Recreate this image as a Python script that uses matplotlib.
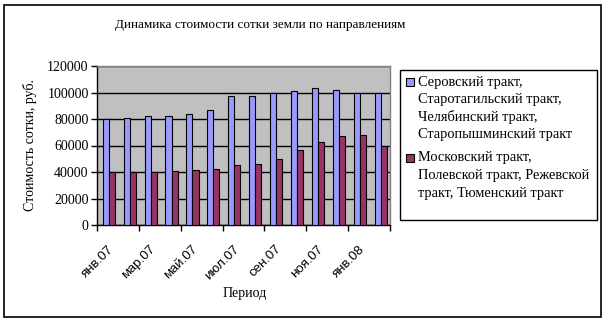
import matplotlib
matplotlib.use("Agg")
import matplotlib.pyplot as plt
from matplotlib.patches import Rectangle
from matplotlib.transforms import ScaledTranslation
import numpy as np

plt.rcParams['font.family'] = ['Liberation Serif', 'DejaVu Serif']

months = ["янв.07", "фев.07", "мар.07", "апр.07", "май.07", "июн.07", "июл.07",
          "авг.07", "сен.07", "окт.07", "ноя.07", "дек.07", "янв.08", "фев.08"]
north_west = [80000, 80500, 82000, 82000, 83500, 86500, 97000,
              97000, 100000, 101500, 103700, 102200, 100000, 100000]
south_east = [40000, 40000, 40000, 40700, 41500, 42200, 45300,
              46000, 49800, 56300, 62500, 67300, 68000, 60000]
series_names = [["Серовский тракт,", "Старотагильский тракт,", "Челябинский тракт,",
                 "Старопышминский тракт"],
                ["Московский тракт,", "Полевской тракт, Режевской", "тракт, Тюменский тракт"]]
series_colors = ["#9999FF", "#993366"]
y_ticks = [0, 20000, 40000, 60000, 80000, 100000, 120000]

W, H = 607, 323
fig = plt.figure(figsize=(W / 100, H / 100), dpi=100)
fig.patch.set_facecolor("white")


def fx(px):
    return px / W


def fy(py):
    return 1 - py / H


# outer chart frame
fig.add_artist(Rectangle((fx(4), fy(317)), (601 - 4) / W, (317 - 5) / H,
                         transform=fig.transFigure, fill=False, edgecolor="black", lw=1.2))

ax = fig.add_axes([fx(97), fy(225), (390 - 97) / W, (225 - 66) / H])
ax.set_facecolor("#C0C0C0")

x = np.arange(len(months))
bw = 0.29
ax.bar(x - bw / 2 + 0.06, north_west, width=bw, color=series_colors[0],
       edgecolor="black", lw=0.8, zorder=3)
ax.bar(x + bw / 2 + 0.06, south_east, width=bw, color=series_colors[1],
       edgecolor="black", lw=0.8, zorder=3)

ax.set_xlim(-0.5, len(months) - 0.5)
ax.set_ylim(0, 120000)
ax.set_yticks(y_ticks)
ax.set_yticklabels([str(v) for v in y_ticks], fontsize=10)
ax.yaxis.grid(True, color="black", lw=1.0, zorder=1)
ax.set_axisbelow(True)

ax.set_xticks(np.arange(-0.5, len(months), 2))
ax.set_xticklabels([])
ax.set_xticks(x[::2], minor=True)
labels = ax.set_xticklabels(months[::2], minor=True, rotation=45, ha="right",
                            rotation_mode="anchor", fontsize=9.5,
                            family=["Liberation Sans", "DejaVu Sans"])
shift = ScaledTranslation(-6 / 100, 0, fig.dpi_scale_trans)
for lab in labels:
    lab.set_transform(lab.get_transform() + shift)
ax.tick_params(axis="x", which="minor", length=0, pad=13)
ax.tick_params(axis="x", which="major", length=4, direction="out", width=1)
ax.tick_params(axis="y", length=4, direction="out", width=1, pad=2)

for side in ["top", "right"]:
    ax.spines[side].set_color("#808080")
    ax.spines[side].set_linewidth(1.0)
for side in ["left", "bottom"]:
    ax.spines[side].set_color("black")
    ax.spines[side].set_linewidth(1.0)

fig.text(fx(260), fy(25), "Динамика стоимости сотки земли по направлениям",
         ha="center", va="center", fontsize=9.5)
fig.text(fx(245), fy(294), "Период", ha="center", va="center", fontsize=10)
fig.text(fx(30), fy(145), "Стоимость сотки, руб.", ha="center", va="center",
         rotation=90, fontsize=10)

# legend box drawn by hand so each marker sits beside the first line of its entry
fig.add_artist(Rectangle((fx(400), fy(220)), (597 - 400) / W, (220 - 70) / H,
                         transform=fig.transFigure, facecolor="white",
                         edgecolor="black", lw=1.0))
entry_tops = [82, 158]
line_step = 17.5
for names, color, y0 in zip(series_names, series_colors, entry_tops):
    fig.add_artist(Rectangle((fx(406), fy(y0 + 4)), 8 / W, 8 / H,
                             transform=fig.transFigure, facecolor=color,
                             edgecolor="black", lw=0.8))
    for i, line in enumerate(names):
        fig.text(fx(418), fy(y0 + i * line_step), line, ha="left", va="center",
                 fontsize=10.4)

fig.savefig("out.png", dpi=100)
